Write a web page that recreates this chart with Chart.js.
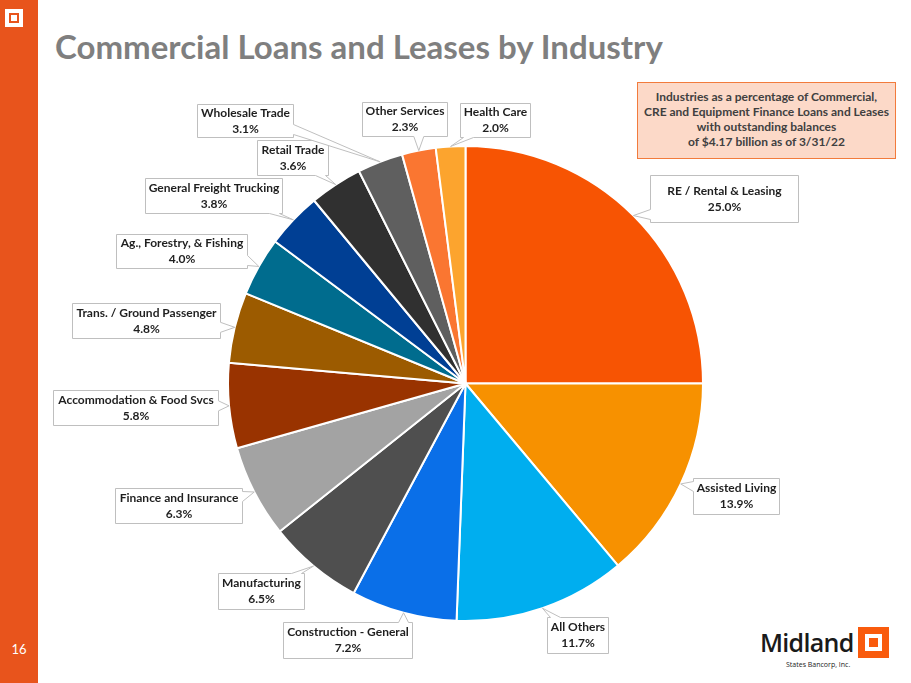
<!DOCTYPE html>
<html>
<head>
<meta charset="utf-8">
<script src="https://cdn.jsdelivr.net/npm/chart.js@4"></script>
<style>
  html, body { margin: 0; padding: 0; background: #fff; }
  body { width: 911px; height: 683px; position: relative; overflow: hidden; font-family: Lato, "Open Sans", sans-serif; }
  #sidebar { position: absolute; left: 0; top: 0; width: 38px; height: 683px; background: #E8541C; }
  #sideIcon { position: absolute; left: 5px; top: 9px; width: 18px; height: 18px; background: #fff; }
  #sideIcon div { position: absolute; left: 4px; top: 4px; width: 6px; height: 6px; border: 2px solid #E8541C; background: #fff; }
  #pageNo { position: absolute; left: 0; width: 38px; top: 641px; text-align: center; color: #fff; font-size: 13px; }
  #title { position: absolute; left: 55px; top: 26px; font-size: 33px; font-weight: bold; color: #7F7F7F; white-space: nowrap; }
  #note { position: absolute; left: 637px; top: 82px; width: 257px; height: 69px; background: #FCD9C8; border: 1px solid #F27B3C;
          text-align: center; font-size: 12px; font-weight: bold; color: #404040; line-height: 15px; padding-top: 6px; box-sizing: content-box; }
  #logo { position: absolute; left: 760px; top: 625px; }
  #logoWord { position: absolute; left: 0; top: 0; font-size: 25px; font-weight: 600; color: #1a1a1a; letter-spacing: -0.7px; font-family: "Open Sans", sans-serif; white-space: nowrap; }
  #logoSub { position: absolute; left: 26px; top: 35px; font-size: 7px; color: #222; white-space: nowrap; font-family: "Open Sans", sans-serif; }
  #logoBox { position: absolute; left: 858px; top: 627px; width: 31px; height: 31px; background: #F95B0D; }
  #logoBox div { position: absolute; left: 7px; top: 7px; width: 9px; height: 9px; border: 4px solid #fff; background: #F95B0D; }
  canvas { position: absolute; left: 0; top: 0; }
</style>
</head>
<body>
<div id="sidebar"><div id="sideIcon"><div></div></div><div id="pageNo">16</div></div>
<div id="title">Commercial Loans and Leases by Industry</div>
<div id="note">Industries as a percentage of Commercial,<br>CRE and Equipment Finance Loans and Leases<br>with outstanding balances<br>of $4.17 billion as of 3/31/22</div>
<div id="logo"><div id="logoWord">Midland</div><div id="logoSub">States Bancorp, Inc.</div></div>
<div id="logoBox"><div></div></div>
<canvas id="pieChart" width="911" height="683"></canvas>
<script>
const industries = ['RE / Rental & Leasing', 'Assisted Living', 'All Others', 'Construction - General', 'Manufacturing',
  'Finance and Insurance', 'Accommodation & Food Svcs', 'Trans. / Ground Passenger', 'Ag., Forestry, & Fishing',
  'General Freight Trucking', 'Retail Trade', 'Wholesale Trade', 'Other Services', 'Health Care'];
const shares = [25.0, 13.9, 11.7, 7.2, 6.5, 6.3, 5.8, 4.8, 4.0, 3.8, 3.6, 3.1, 2.3, 2.0];
const sliceColors = ['#F75403', '#F79100', '#00AEEF', '#0A6FE8', '#4F4F4F', '#A3A3A3', '#993300', '#9C5B00',
  '#006C8E', '#003F94', '#303030', '#5F5F5F', '#FA7631', '#FCA42E'];

// callout boxes [left, top, right, bottom], same order as the slices
const calloutBoxes = [
  [650, 175, 798, 222], [693, 478, 779, 514], [547, 617, 608, 653], [283, 622, 412, 658],
  [218, 573, 304, 609], [115, 488, 242, 523], [53, 390, 218, 425], [72, 303, 220, 338],
  [116, 234, 247, 268], [145, 178, 282, 213], [257, 140, 328, 175], [197, 104, 293, 137],
  [362, 102, 447, 136], [460, 103, 530, 137]
];

function clamp(v, a, b) { return Math.max(a, Math.min(b, v)); }

// box outline with a wedge pointing at (tx, ty)
function calloutPath(ctx, b, tx, ty) {
  const [x1, y1, x2, y2] = b;
  const dx = tx < x1 ? x1 - tx : (tx > x2 ? tx - x2 : 0);
  const dy = ty < y1 ? y1 - ty : (ty > y2 ? ty - y2 : 0);
  const side = dx > dy * 2 ? 'h' : 'v';
  const w = 5;
  ctx.beginPath();
  ctx.moveTo(x1, y1);
  if (side === 'v' && ty < y1) { const bx = clamp(tx, x1 + 8, x2 - 8); ctx.lineTo(bx - w, y1); ctx.lineTo(tx, ty); ctx.lineTo(bx + w, y1); }
  ctx.lineTo(x2, y1);
  if (side === 'h' && tx > x2) { const by = clamp(ty, y1 + 8, y2 - 8); ctx.lineTo(x2, by - w); ctx.lineTo(tx, ty); ctx.lineTo(x2, by + w); }
  ctx.lineTo(x2, y2);
  if (side === 'v' && ty > y2) { const bx = clamp(tx, x1 + 8, x2 - 8); ctx.lineTo(bx + w, y2); ctx.lineTo(tx, ty); ctx.lineTo(bx - w, y2); }
  ctx.lineTo(x1, y2);
  if (side === 'h' && tx < x1) { const by = clamp(ty, y1 + 8, y2 - 8); ctx.lineTo(x1, by + w); ctx.lineTo(tx, ty); ctx.lineTo(x1, by - w); }
  ctx.closePath();
}

const calloutPlugin = {
  id: 'callouts',
  afterDraw(chart) {
    const ctx = chart.ctx;
    const arcs = chart.getDatasetMeta(0).data;
    ctx.save();
    arcs.forEach((arc, i) => {
      const mid = (arc.startAngle + arc.endAngle) / 2;
      const tx = arc.x + Math.cos(mid) * arc.outerRadius;
      const ty = arc.y + Math.sin(mid) * arc.outerRadius;
      const b = calloutBoxes[i].map(v => v + 0.5);
      calloutPath(ctx, b, tx, ty);
      ctx.fillStyle = '#fff';
      ctx.fill();
      ctx.strokeStyle = '#BFBFBF';
      ctx.lineWidth = 1;
      ctx.stroke();
      const cx = (b[0] + b[2]) / 2, cy = (b[1] + b[3]) / 2;
      ctx.fillStyle = '#1F1F1F';
      ctx.font = 'bold 12px Lato, "Open Sans", sans-serif';
      ctx.textAlign = 'center';
      ctx.textBaseline = 'middle';
      ctx.fillText(industries[i], cx, cy - 8);
      ctx.fillText(shares[i].toFixed(1) + '%', cx, cy + 8);
    });
    ctx.restore();
  }
};

new Chart(document.getElementById('pieChart'), {
  type: 'pie',
  data: {
    labels: industries,
    datasets: [{
      data: shares,
      backgroundColor: sliceColors,
      borderColor: '#fff',
      borderWidth: 2
    }]
  },
  options: {
    responsive: false,
    animation: false,
    layout: { padding: { left: 227, right: 207, top: 145, bottom: 61 } },
    plugins: { legend: { display: false }, tooltip: { enabled: false } }
  },
  plugins: [calloutPlugin]
});
</script>
</body>
</html>
